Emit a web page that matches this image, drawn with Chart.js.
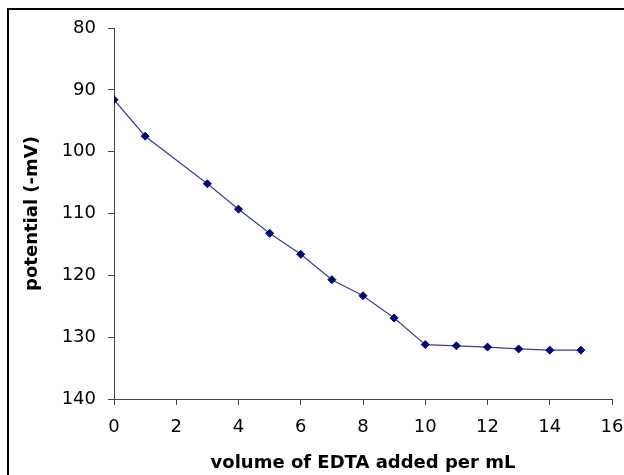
<!DOCTYPE html>
<html>
<head>
<meta charset="utf-8">
<script src="https://cdn.jsdelivr.net/npm/chart.js@4/dist/chart.umd.min.js"></script>
<style>
body { margin: 0; overflow: hidden; background: #fff; }
#frame { position: absolute; left: 7px; top: 8px; width: 700px; height: 600px; border-left: 2px solid #000; border-top: 2px solid #000; }
#wrap { position: absolute; left: 0; top: 0; width: 640px; height: 475px; }
</style>
</head>
<body>
<div id="frame"></div>
<div id="wrap"><canvas id="myChart" width="640" height="475"></canvas></div>
<script>
// titration data
var volume = [0, 1, 3, 4, 5, 6, 7, 8, 9, 10, 11, 12, 13, 14, 15];
var potential = [91.6, 97.5, 105.2, 109.3, 113.2, 116.6, 120.7, 123.3, 126.9, 131.2, 131.4, 131.6, 131.9, 132.1, 132.1];
var xTitle = 'volume of EDTA added per mL';
var yTitle = 'potential (-mV)';

var points = volume.map(function (v, i) { return { x: v, y: potential[i] }; });

var tickFont = { family: 'DejaVu Sans', size: 18 };
var titleFont = { family: 'DejaVu Sans', size: 18, weight: 'bold' };

var ctx = document.getElementById('myChart').getContext('2d');
var myChart = new Chart(ctx, {
    type: 'scatter',
    data: {
        datasets: [{
            data: points,
            showLine: true,
            borderColor: '#3c3ca8',
            borderWidth: 1.2,
            tension: 0,
            pointStyle: 'rectRot',
            pointRadius: 4,
            pointBackgroundColor: '#000080',
            pointBorderColor: '#000080',
            pointBorderWidth: 1
        }]
    },
    options: {
        responsive: false,
        animation: false,
        layout: { padding: { left: 0, top: 28, right: 28, bottom: 0 } },
        plugins: { legend: { display: false }, tooltip: { enabled: false } },
        scales: {
            x: {
                type: 'linear',
                min: 0,
                max: 16,
                ticks: { stepSize: 2, font: tickFont, color: '#000', padding: 12, maxRotation: 0 },
                grid: { drawOnChartArea: false, tickLength: 6, color: '#444' },
                border: { color: '#444', width: 1 },
                title: { display: true, text: xTitle, font: titleFont, color: '#000', padding: { top: 0, bottom: 1 } },
                afterFit: function (scale) { scale.height = 76; }
            },
            y: {
                reverse: true,
                min: 80,
                max: 140,
                ticks: { stepSize: 10, font: tickFont, color: '#000', padding: 12 },
                grid: { drawOnChartArea: false, tickLength: 6, color: '#444' },
                border: { color: '#444', width: 1 },
                title: { display: true, text: yTitle, font: titleFont, color: '#000', padding: { top: 22, bottom: 0 } },
                afterFit: function (scale) { scale.width = 114; }
            }
        }
    }
});
</script>
</body>
</html>
